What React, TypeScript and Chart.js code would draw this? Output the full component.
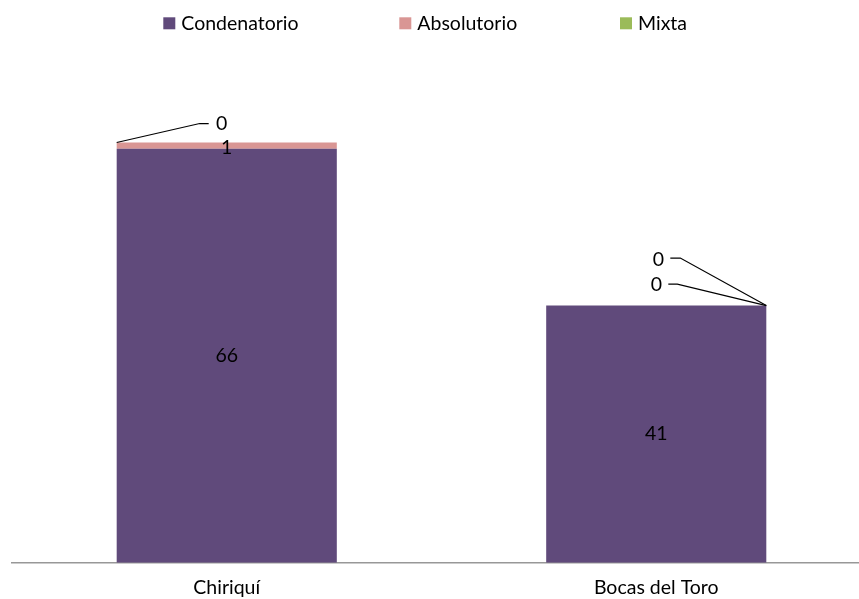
import React, { useEffect, useRef } from "react";
import { Chart, registerables } from "chart.js";

Chart.register(...registerables);

// ---------- data ----------
const categories = ["Chiriquí", "Bocas del Toro"];
const seriesNames = ["Condenatorio", "Absolutorio", "Mixta"];
const condenatorio = [66, 41];
const absolutorio = [1, 0];
const mixta = [0, 0];
const seriesColors = ["#604A7B", "#D99694", "#9BBB59"];
const yMin = 0;
const yMax = 80;

// ---------- styles ----------
const FONT = "Lato, 'Open Sans', sans-serif";
const FONT_SIZE = 19.5;
const CANVAS_W = 871;
const CANVAS_H = 599;

// leader-line labels for zero-height segments (offsets relative to a bar corner)
const leaderLabels: Record<string, { corner: "left" | "right"; dx: number; dy: number; elbow: number; end: number; lineDy: number }> = {
  "2-0": { corner: "left", dx: 105, dy: -19, elbow: 83, end: 92, lineDy: 0 },
  "2-1": { corner: "right", dx: -108, dy: -45.5, elbow: -86, end: -96, lineDy: -2 },
  "1-1": { corner: "right", dx: -110, dy: -20.5, elbow: -89, end: -98, lineDy: -1 },
};

const dataLabelPlugin = {
  id: "dataLabels",
  afterDatasetsDraw(chart: any) {
    const ctx = chart.ctx as CanvasRenderingContext2D;
    ctx.save();
    ctx.font = `${FONT_SIZE}px ${FONT}`;
    ctx.fillStyle = "#000";
    ctx.textAlign = "center";
    ctx.textBaseline = "middle";
    chart.data.datasets.forEach((ds: any, di: number) => {
      const meta = chart.getDatasetMeta(di);
      meta.data.forEach((el: any, i: number) => {
        const v = ds.data[i];
        const p = el.getProps(["x", "y", "base", "width"], true);
        const key = `${di}-${i}`;
        const lead = leaderLabels[key];
        if (lead) {
          const cx = lead.corner === "left" ? p.x - p.width / 2 : p.x + p.width / 2;
          const cy = p.y;
          const lx = cx + lead.dx;
          const ly = cy + lead.dy;
          ctx.strokeStyle = "#000";
          ctx.lineWidth = 1.2;
          ctx.beginPath();
          ctx.moveTo(cx, cy);
          ctx.lineTo(cx + lead.elbow, ly + lead.lineDy);
          ctx.lineTo(cx + lead.end, ly + lead.lineDy);
          ctx.stroke();
          ctx.fillText(String(v), lx, ly);
        } else if (v !== 0) {
          const extra = Math.abs(p.base - p.y) < 20 ? 2.5 : 0;
          ctx.fillText(String(v), p.x, (p.y + p.base) / 2 + extra);
        }
      });
    });
    ctx.restore();
  },
};

const legendBoxX = [163.3, 399.3, 620];
const legendPlugin = {
  id: "customLegend",
  afterDraw(chart: any) {
    const ctx = chart.ctx as CanvasRenderingContext2D;
    ctx.save();
    ctx.font = `${FONT_SIZE}px ${FONT}`;
    ctx.textAlign = "left";
    ctx.textBaseline = "middle";
    chart.data.datasets.forEach((ds: any, di: number) => {
      const bx = legendBoxX[di];
      ctx.fillStyle = ds.backgroundColor;
      ctx.fillRect(bx, 17.3, 12, 12);
      ctx.fillStyle = "#000";
      ctx.fillText(ds.label, bx + 18, 23.8);
    });
    ctx.restore();
  },
};

export default function App() {
  const ref = useRef<HTMLCanvasElement | null>(null);
  useEffect(() => {
    if (!ref.current) return;
    const seriesValues = [condenatorio, absolutorio, mixta];
    const chart = new Chart(ref.current, {
      type: "bar",
      data: {
        labels: categories,
        datasets: seriesNames.map((name, k) => ({
          label: name,
          data: seriesValues[k],
          backgroundColor: seriesColors[k],
          borderWidth: 0,
          barPercentage: 0.5125,
          categoryPercentage: 1,
        })),
      },
      options: {
        responsive: false,
        animation: false,
        devicePixelRatio: 1,
        layout: { padding: { left: 12, top: 61, right: 0, bottom: 0 } },
        plugins: {
          legend: { display: false },
          tooltip: { enabled: false },
        },
        scales: {
          x: {
            stacked: true,
            grid: { display: false, drawTicks: false },
            border: { display: true, color: "#989898", width: 1.5 },
            ticks: {
              color: "#000",
              padding: 13,
              font: { family: FONT, size: FONT_SIZE },
            },
            afterFit: (s: any) => {
              s.height = 36.3;
            },
          },
          y: {
            stacked: true,
            display: false,
            min: yMin,
            max: yMax,
          },
        },
      },
      plugins: [dataLabelPlugin, legendPlugin],
    } as any);
    return () => chart.destroy();
  }, []);

  return (
    <div style={{ position: "fixed", left: 0, top: 0, width: CANVAS_W, height: CANVAS_H, background: "#fff" }}>
      <canvas ref={ref} width={CANVAS_W} height={CANVAS_H} style={{ display: "block", width: CANVAS_W, height: CANVAS_H }} />
    </div>
  );
}
